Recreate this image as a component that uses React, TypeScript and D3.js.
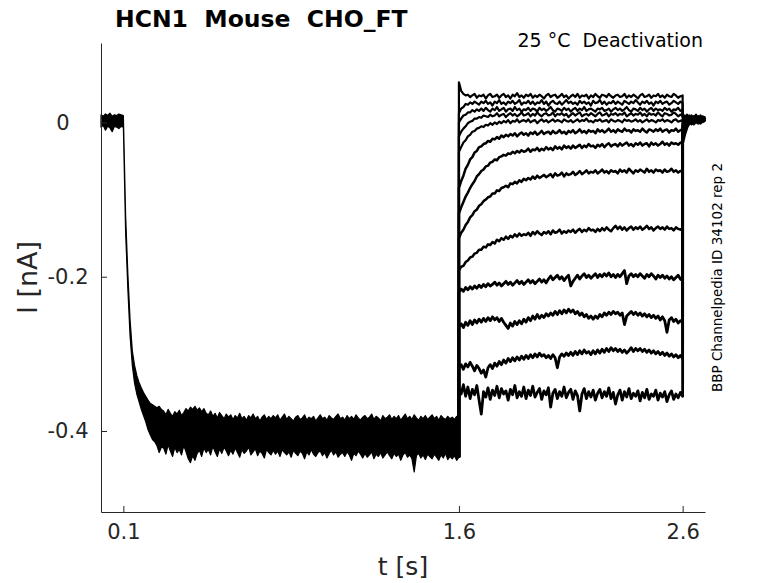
import { useEffect, useRef } from 'react';
import * as d3 from 'd3';

// Current values in pA.
// Holding phase (all sweeps overlap): upper / lower edge of the noise band, 10 ms grid from 0 s.
const preHi = [
  10, 8, 11, 9, 12, 8, 10, 9, 11, 10,
  9, -120, -196, -256, -296, -315, -328, -337, -344, -350,
  -355, -360, -364, -366, -368, -370, -368, -372,
  -374, -379, -372, -377, -381, -375, -378, -373, -380, -376,
  -371, -374, -369, -372, -368, -373, -370, -375, -371, -377,
  -379, -374, -381, -377, -383, -376, -380, -384, -378, -382,
  -379, -385, -380, -383, -377, -384, -381, -386, -380, -383,
  -378, -384, -381, -387, -382, -379, -385, -381, -384, -380,
  -383, -379, -386, -382, -378, -385, -381, -384, -387, -382,
  -380, -385, -383, -379, -386, -382, -384, -381, -387, -383,
  -379, -384, -382, -386, -380, -383, -385, -381, -378, -384,
  -382, -386, -380, -384, -381, -385, -379, -383, -386, -382,
  -380, -384, -382, -378, -385, -381, -383, -387, -380, -384,
  -382, -379, -385, -381, -384, -380, -386, -382, -378, -384,
  -381, -385, -379, -383, -386, -381, -384, -380, -385, -382,
  -379, -384, -381, -386, -380, -383, -385, -381, -384, -382,
  -385, -381, -384,
];
const preLo = [
  -6, -4, -10, -5, -7, -12, -5, -6, -8, -5,
  -6, -142, -216, -277, -315, -338, -352, -362, -372, -380,
  -388, -398, -405, -411, -414, -419, -428, -421,
  -422, -430, -418, -426, -433, -421, -428, -424, -431, -419,
  -427, -436, -441, -432, -438, -429, -425, -433, -422, -428,
  -424, -431, -420, -427, -433, -423, -429, -421, -426, -432,
  -425, -430, -422, -428, -434, -424, -429, -426, -421, -431,
  -427, -423, -432, -426, -429, -435, -424, -428, -431, -425,
  -430, -426, -433, -424, -428, -431, -427, -434, -425, -429,
  -432, -426, -429, -436, -427, -431, -424, -430, -433, -428,
  -426, -432, -428, -435, -429, -425, -431, -427, -434, -430,
  -428, -433, -427, -431, -438, -429, -432, -426, -430, -435,
  -429, -434, -431, -427, -436, -430, -433, -428, -435, -431,
  -427, -432, -436, -429, -433, -430, -438, -431, -428, -434,
  -431, -436, -453, -432, -429, -435, -431, -437, -430, -433,
  -436, -430, -434, -438, -431, -435, -429, -437, -433, -436,
  -432, -438, -434,
];

// Test pulses, 1.6 s to 2.6 s on a 10 ms grid (pA), one array per sweep.
const sweep1 = [
  52, 41, 37, 35, 36, 33, 35, 37, 32, 35, 34, 36, 31, 35, 37, 33, 34, 36, 32, 35,
  37, 33, 35, 31, 36, 34, 38, 33, 35, 32, 36, 34, 37, 32, 35, 33, 36, 34, 31, 35,
  37, 33, 35, 36, 32, 34, 37, 33, 35, 31, 34, 36, 33, 37, 32, 35, 34, 36, 31, 35,
  33, 37, 34, 32, 36, 35, 33, 37, 34, 32, 35, 36, 33, 34, 37, 32, 35, 33, 36, 34,
  31, 35, 37, 33, 34, 36, 32, 35, 34, 37, 33, 35, 32, 36, 34, 33, 37, 35, 32, 34, 35,
];
const sweep2 = [
  12, 18, 20, 24, 23, 26, 24, 27, 25, 23, 27, 25, 28, 24, 26, 22, 27, 25, 29, 24,
  26, 23, 27, 25, 28, 24, 26, 29, 23, 26, 25, 28, 24, 27, 23, 26, 25, 29, 24, 27,
  22, 26, 28, 25, 24, 27, 23, 26, 29, 25, 27, 24, 26, 23, 28, 25, 27, 24, 26, 22,
  28, 25, 26, 29, 24, 27, 23, 26, 25, 28, 24, 27, 25, 23, 28, 26, 24, 27, 25, 29,
  26, 23, 27, 25, 28, 24, 26, 22, 27, 25, 28, 24, 26, 27, 23, 25, 28, 26, 24, 27, 25,
];
const sweep3 = [
  0, 5, 9, 10, 13, 13, 16, 14, 17, 15, 18, 15, 19, 16, 14, 18, 16, 20, 15, 17,
  19, 14, 17, 18, 15, 20, 16, 18, 14, 17, 16, 19, 15, 18, 17, 14, 19, 16, 18, 15,
  17, 20, 16, 14, 18, 17, 15, 19, 16, 18, 14, 17, 19, 15, 18, 16, 20, 15, 17, 18,
  16, 14, 18, 17, 19, 15, 16, 18, 14, 17, 19, 16, 18, 15, 17, 20, 16, 14, 18, 17,
  15, 19, 16, 18, 14, 17, 19, 15, 18, 16, 17, 15, 19, 16, 18, 14, 17, 16, 19, 15, 17,
];
const sweep4 = [
  -18, -12, -8, -5, -1, 1, 2, 5, 5, 7, 6, 9, 8, 7, 10, 8, 9, 12, 8, 10,
  11, 7, 10, 12, 9, 11, 8, 10, 13, 9, 10, 12, 8, 11, 9, 13, 10, 8, 11, 12,
  9, 10, 13, 8, 11, 10, 12, 9, 11, 7, 10, 12, 9, 11, 13, 8, 10, 11, 9, 12,
  10, 8, 11, 13, 9, 10, 12, 8, 11, 10, 12, 9, 11, 10, 13, 8, 10, 12, 9, 11,
  10, 13, 9, 11, 8, 12, 10, 11, 9, 13, 10, 8, 12, 11, 9, 10, 13, 11, 8, 10, 11,
];
const sweep5 = [
  -38, -32, -26, -23, -18, -16, -12, -11, -8, -7, -5, -6, -3, -4, -1, -3, 0, -2, 1, -1,
  2, 0, 3, -1, 2, 1, 4, 0, 2, 3, 1, 4, 0, 2, 3, -1, 2, 4, 1, 3,
  0, 2, 4, 1, 3, 2, 0, 4, 2, 1, 3, 0, 2, 4, 1, 3, 2, 5, 1, 2,
  0, 3, 2, 4, 1, 2, 3, 0, 4, 2, 1, 3, 2, 0, 4, 2, 3, 1, 2, 4,
  1, 3, 0, 2, 4, 1, 3, 2, 0, 3, 2, 4, 1, 3, 2, 0, 3, 4, 1, 2, 3,
];
const sweep6 = [
  -85, -76, -69, -60, -55, -48, -45, -39, -37, -32, -31, -28, -27, -24, -25, -21, -22, -19, -21, -17,
  -19, -16, -18, -15, -17, -14, -18, -15, -13, -16, -14, -17, -13, -15, -12, -16, -14, -11, -15, -13,
  -12, -15, -11, -14, -13, -10, -14, -12, -15, -11, -13, -10, -14, -12, -9, -13, -11, -14, -10, -12,
  -11, -14, -9, -12, -10, -13, -11, -8, -12, -10, -13, -9, -11, -12, -8, -11, -10, -13, -9, -11,
  -10, -12, -8, -11, -13, -9, -10, -12, -9, -11, -8, -12, -10, -9, -13, -10, -11, -8, -12, -10, -9,
];
const sweep7 = [
  -118, -110, -103, -96, -91, -85, -80, -76, -70, -67, -63, -61, -57, -56, -52, -51, -48, -49, -45, -44,
  -42, -43, -40, -41, -38, -40, -37, -39, -36, -38, -37, -34, -38, -35, -36, -33, -37, -34, -36, -32,
  -35, -33, -36, -31, -34, -32, -35, -30, -33, -31, -34, -30, -33, -31, -29, -33, -30, -32, -28, -31,
  -30, -33, -29, -31, -28, -32, -29, -27, -31, -29, -28, -31, -27, -30, -28, -26, -30, -28, -31, -27,
  -29, -26, -30, -28, -27, -31, -26, -29, -27, -30, -28, -25, -29, -27, -30, -26, -28, -27, -29, -26, -28,
];
const sweep8 = [
  -150, -143, -139, -133, -129, -123, -120, -115, -113, -108, -106, -102, -100, -97, -96, -92, -92, -88, -89, -85,
  -84, -82, -84, -79, -80, -77, -79, -75, -77, -73, -75, -72, -74, -70, -73, -69, -72, -70, -68, -71,
  -69, -67, -71, -66, -69, -68, -65, -70, -66, -68, -67, -64, -68, -66, -63, -67, -65, -62, -66, -64,
  -65, -62, -66, -64, -61, -65, -63, -66, -62, -64, -63, -66, -61, -64, -62, -65, -60, -63, -66, -62,
  -64, -61, -63, -65, -60, -64, -62, -65, -61, -63, -62, -65, -61, -64, -63, -60, -64, -62, -65, -63, -64,
];
const sweep9 = [
  -192, -187, -186, -181, -179, -175, -174, -170, -169, -165, -165, -161, -162, -158, -159, -155, -157, -152, -154, -150,
  -152, -148, -151, -147, -149, -145, -148, -144, -147, -145, -146, -143, -147, -142, -145, -141, -144, -146, -142, -144,
  -141, -145, -140, -143, -142, -139, -144, -141, -143, -140, -142, -139, -143, -140, -138, -142, -139, -141, -137, -140,
  -139, -142, -138, -141, -137, -140, -136, -139, -141, -137, -134, -138, -135, -139, -136, -140, -137, -135, -139, -136,
  -138, -135, -139, -137, -134, -138, -136, -140, -137, -135, -138, -136, -139, -135, -138, -137, -140, -136, -138, -139, -137,
];
const sweep10 = [
  -220, -216, -219, -214, -217, -213, -216, -212, -215, -211, -214, -210, -213, -209, -212, -210, -207, -211, -208, -212,
  -209, -206, -210, -207, -211, -208, -205, -209, -206, -210, -207, -204, -208, -205, -209, -206, -203, -207, -204, -208,
  -203, -199, -204, -201, -198, -203, -200, -205, -201, -198, -212, -206, -202, -198, -203, -199, -196, -201, -198, -202,
  -199, -196, -201, -197, -200, -196, -199, -195, -200, -197, -201, -197, -200, -196, -192, -209, -199, -196, -200, -197,
  -200, -196, -199, -202, -197, -200, -196, -199, -203, -198, -201, -198, -202, -199, -203, -200, -204, -201, -198, -203, -205,
];
const sweep11 = [
  -265, -261, -266, -259, -263, -257, -262, -256, -260, -255, -259, -254, -258, -253, -257, -252, -256, -253, -258, -254,
  -259, -263, -267, -260, -264, -258, -262, -257, -261, -255, -259, -253, -257, -251, -255, -249, -254, -250, -253, -248,
  -251, -247, -250, -245, -249, -244, -248, -243, -247, -242, -246, -243, -248, -245, -250, -247, -252, -249, -254, -251,
  -255, -251, -254, -249, -252, -247, -250, -246, -249, -245, -248, -246, -250, -247, -262, -251, -248, -245, -249, -246,
  -250, -247, -251, -248, -252, -249, -253, -250, -254, -251, -256, -252, -257, -272, -256, -253, -258, -255, -260, -257, -259,
];
const sweep12 = [
  -318, -314, -320, -313, -317, -311, -316, -322, -315, -319, -325, -321, -330, -318, -314, -319, -312, -316, -310, -314,
  -308, -312, -306, -310, -305, -309, -304, -308, -303, -307, -302, -306, -301, -305, -300, -304, -299, -303, -301, -305,
  -302, -306, -301, -305, -318, -304, -300, -303, -299, -302, -298, -302, -297, -301, -296, -300, -295, -299, -297, -301,
  -296, -300, -295, -299, -294, -298, -293, -297, -292, -296, -293, -297, -294, -298, -295, -299, -296, -292, -297, -293,
  -296, -293, -297, -294, -298, -295, -299, -296, -300, -297, -301, -298, -302, -299, -303, -300, -304, -301, -305, -302, -306,
];
const sweep13 = [
  -345, -352, -340, -355, -343, -358, -346, -353, -341, -360, -378, -349, -356, -344, -359, -347, -354, -342, -357, -345,
  -352, -348, -360, -346, -353, -341, -357, -349, -355, -343, -358, -347, -354, -342, -356, -350, -345, -359, -348, -353,
  -344, -369, -351, -346, -358, -349, -355, -343, -357, -350, -346, -359, -348, -354, -374, -352, -345, -358, -349, -356,
  -347, -360, -351, -346, -357, -349, -355, -344, -358, -350, -365, -353, -347, -360, -349, -356, -345, -358, -351, -355,
  -348, -361, -350, -357, -346, -359, -352, -355, -347, -360, -351, -356, -349, -362, -353, -348, -359, -352, -357, -350, -355,
];

// Return to holding after 2.6 s (pA, 10 ms grid), same sweep order.
const tails = [
  [10, 6, 9, 4, 8, 3, 7, 5, 9, 4, 6],
  [8, 5, 10, 3, 7, 5, 9, 2, 6, 8, 4],
  [7, 9, 4, 8, 2, 6, 10, 4, 7, 3, 8],
  [6, 3, 8, 5, 9, 2, 7, 4, 8, 5, 3],
  [4, 7, 2, 9, 5, 3, 8, 6, 2, 7, 5],
  [2, 5, 0, 6, 3, 8, 4, 1, 7, 3, 6],
  [-2, 3, 6, 1, 7, 4, 2, 8, 3, 5, 1],
  [-6, -1, 4, 2, 6, 0, 5, 3, 7, 2, 4],
  [-10, -3, 2, 5, 1, 6, 3, 0, 5, 2, 7],
  [-14, -6, 0, 4, 1, 5, 2, 6, 0, 4, 3],
  [-18, -9, -2, 3, 0, 5, 2, -1, 4, 1, 6],
  [-22, -12, -4, 1, -2, 4, 0, 3, -1, 5, 2],
  [-27, -15, -6, -1, 3, -2, 2, 5, 0, 4, 1],
];

const sweeps = [
  sweep1, sweep2, sweep3, sweep4, sweep5, sweep6, sweep7,
  sweep8, sweep9, sweep10, sweep11, sweep12, sweep13,
];

const xTicks = [0.1, 1.6, 2.6];
const yTicks = [-0.4, -0.2, 0];

const title = 'HCN1  Mouse  CHO_FT';
const subtitle = '25 °C  Deactivation';
const sideNote = 'BBP Channelpedia ID 34102 rep 2';

const W = 778;
const H = 583;
const FONT = 'DejaVu Sans, sans-serif';

export default function App() {
  const svgRef = useRef<SVGSVGElement>(null);

  useEffect(() => {
    if (!svgRef.current) return;
    const svg = d3.select(svgRef.current);
    svg.selectAll('*').remove();

    const x = d3.scaleLinear().domain([0, 2.7]).range([101, 705]);
    const y = d3.scaleLinear().domain([-0.505, 0.103]).range([512, 43]);

    const dt = 0.01;
    type P = [number, number];

    // holding band
    const band = preHi.map((hi, i) => ({ t: i * dt, hi: hi / 1000, lo: preLo[i] / 1000 }));
    const area = d3.area<typeof band[0]>()
      .x(d => x(d.t))
      .y0(d => y(d.lo))
      .y1(d => y(d.hi));
    svg.append('path')
      .datum(band)
      .attr('d', area)
      .attr('fill', '#000')
      .attr('stroke', '#000')
      .attr('stroke-width', 1.2)
      .attr('stroke-linejoin', 'round');

    const line = d3.line<P>().x(d => x(d[0])).y(d => y(d[1]));
    const lastLo = preLo[preLo.length - 1] / 1000;

    sweeps.forEach((vals, k) => {
      const pts: P[] = [[1.6, lastLo]];
      vals.forEach((v, i) => pts.push([1.6 + i * dt, v / 1000]));
      tails[k].forEach((v, i) => pts.push([2.6 + i * dt, v / 1000]));
      svg.append('path')
        .datum(pts)
        .attr('d', line)
        .attr('fill', 'none')
        .attr('stroke', '#000')
        .attr('stroke-width', k < 5 ? 2.2 : k < 9 ? 2.5 : 2.8)
        .attr('stroke-linejoin', 'round');
    });

    // axes
    const axisColor = '#262626';
    const yAxis = svg.append('g')
      .attr('transform', `translate(${x(0)},0)`)
      .call(d3.axisLeft(y)
        .tickValues(yTicks)
        .tickSizeInner(-6)
        .tickSizeOuter(0)
        .tickPadding(11)
        .tickFormat(d => (+d === 0 ? '0' : (+d).toFixed(1))));
    yAxis.select('.domain').attr('stroke', axisColor);
    yAxis.selectAll('line').attr('stroke', axisColor);
    yAxis.selectAll('text')
      .attr('text-anchor', 'middle')
      .attr('x', d => (+(d as number) === 0 ? -38 : -33))
      .style('font-family', FONT)
      .style('font-size', '21px')
      .style('fill', axisColor);

    const xAxis = svg.append('g')
      .attr('transform', `translate(0,${y(-0.505)})`)
      .call(d3.axisBottom(x)
        .tickValues(xTicks)
        .tickSizeInner(-6)
        .tickSizeOuter(0)
        .tickPadding(12)
        .tickFormat(d => (+d).toFixed(1)));
    xAxis.select('.domain').attr('stroke', axisColor);
    xAxis.selectAll('line').attr('stroke', axisColor);
    xAxis.selectAll('text')
      .style('font-family', FONT)
      .style('font-size', '21px')
      .style('fill', axisColor);

    // labels
    svg.append('text')
      .attr('x', (x(0) + x(2.7)) / 2)
      .attr('y', 575)
      .attr('text-anchor', 'middle')
      .style('font-family', FONT)
      .style('font-size', '25px')
      .style('fill', axisColor)
      .text('t [s]');

    svg.append('text')
      .attr('transform', `translate(37,${(y(-0.505) + y(0.103)) / 2}) rotate(-90)`)
      .attr('text-anchor', 'middle')
      .style('font-family', FONT)
      .style('font-size', '27px')
      .style('fill', axisColor)
      .text('I [nA]');

    svg.append('text')
      .attr('x', 115)
      .attr('y', 27)
      .style('font-family', FONT)
      .style('font-weight', 'bold')
      .style('font-size', '23.5px')
      .style('white-space', 'pre')
      .style('fill', '#000')
      .text(title);

    svg.append('text')
      .attr('x', 703)
      .attr('y', 47)
      .attr('text-anchor', 'end')
      .style('font-family', FONT)
      .style('font-size', '19px')
      .style('white-space', 'pre')
      .style('fill', '#000')
      .text(subtitle);

    svg.append('text')
      .attr('transform', `translate(722,${(y(-0.505) + y(0.103)) / 2}) rotate(-90)`)
      .attr('text-anchor', 'middle')
      .style('font-family', FONT)
      .style('font-size', '13.5px')
      .style('fill', '#000')
      .text(sideNote);
  }, []);

  return (
    <div style={{ position: 'absolute', left: 0, top: 0, background: '#fff' }}>
      <svg ref={svgRef} width={W} height={H} style={{ display: 'block' }} />
    </div>
  );
}
